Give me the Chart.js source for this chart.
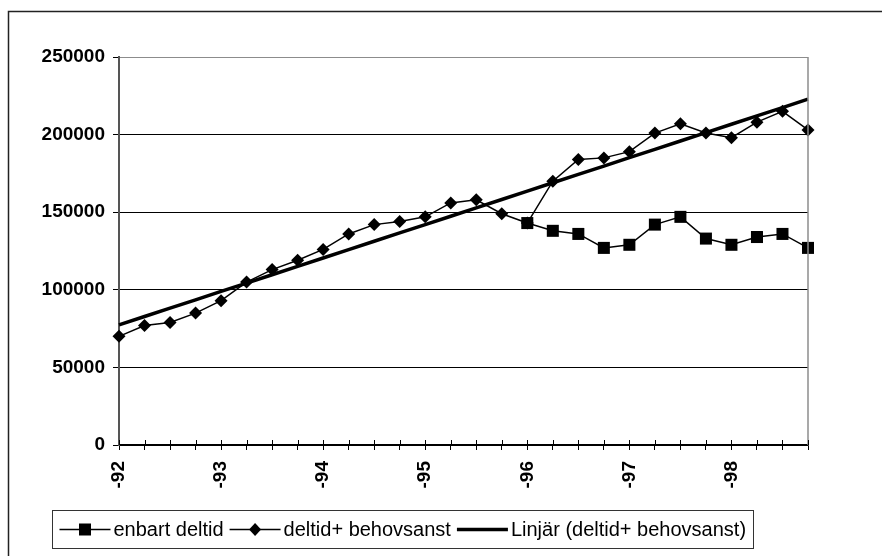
<!DOCTYPE html>
<html>
<head>
<meta charset="utf-8">
<script src="https://cdn.jsdelivr.net/npm/chart.js@4/dist/chart.umd.min.js"></script>
<style>
  html, body { margin: 0; padding: 0; background: #fff; }
  canvas { display: block; }
</style>
</head>
<body>
<canvas id="c" width="882" height="556"></canvas>
<script>
// Quarterly categories, 1992 Q1 .. 1998 Q4; only the first quarter of each year is labelled
const quarterLabels = [
  '-92', '', '', '',
  '-93', '', '', '',
  '-94', '', '', '',
  '-95', '', '', '',
  '-96', '', '', '',
  '-97', '', '', '',
  '-98', '', '', ''
];

const deltidBehovsanst = [
  70000, 77000, 79000, 85000,
  93000, 105000, 113000, 119000,
  126000, 136000, 142000, 144000,
  147000, 156000, 158000, 149000,
  143000, 170000, 184000, 185000,
  189000, 201000, 207000, 201000,
  198000, 208000, 215000, 203000
];

const enbartDeltid = [
  null, null, null, null,
  null, null, null, null,
  null, null, null, null,
  null, null, null, null,
  143000, 138000, 136000, 127000,
  129000, 142000, 147000, 133000,
  129000, 134000, 136000, 127000
];

const yTickValues = [0, 50000, 100000, 150000, 200000, 250000];

const seriesNames = ['enbart deltid', 'deltid+ behovsanst', 'Linjär (deltid+ behovsanst)'];

// Least-squares linear trend of a series over its category index
function linearTrend(values) {
  const pts = values.map((v, i) => [i, v]).filter(p => p[1] !== null);
  const n = pts.length;
  const mx = pts.reduce((s, p) => s + p[0], 0) / n;
  const my = pts.reduce((s, p) => s + p[1], 0) / n;
  let sxy = 0, sxx = 0;
  pts.forEach(p => { sxy += (p[0] - mx) * (p[1] - my); sxx += (p[0] - mx) * (p[0] - mx); });
  const slope = sxy / sxx;
  const icpt = my - slope * mx;
  return values.map((_, i) => icpt + slope * i);
}
const trendLine = linearTrend(deltidBehovsanst);

const FONT = "'Liberation Sans', Arial, sans-serif";

// Frame, plot border, upper half of the category ticks and the boxed legend
const decorations = {
  id: 'decorations',
  beforeDraw(chart) {
    const ctx = chart.ctx;
    ctx.save();
    ctx.fillStyle = '#fff';
    ctx.fillRect(0, 0, chart.width, chart.height);
    ctx.strokeStyle = '#222';
    ctx.lineWidth = 1.5;
    ctx.strokeRect(8.5, 11.5, chart.width + 20, chart.height + 20);
    ctx.restore();
  },
  afterDatasetsDraw(chart) {
    const ctx = chart.ctx;
    const area = chart.chartArea;
    const xs = chart.scales.x;
    ctx.save();
    // right edge of the plot area
    ctx.strokeStyle = '#8c8c8c';
    ctx.lineWidth = 1.5;
    ctx.beginPath();
    ctx.moveTo(area.right, area.top);
    ctx.lineTo(area.right, area.bottom);
    ctx.stroke();
    // tick marks rising above the category axis
    ctx.strokeStyle = '#000';
    ctx.lineWidth = 1;
    xs.ticks.forEach((t, i) => {
      const px = Math.round(xs.getPixelForTick(i)) + 0.5;
      ctx.beginPath();
      ctx.moveTo(px, area.bottom - 5);
      ctx.lineTo(px, area.bottom);
      ctx.stroke();
    });
    ctx.restore();
  },
  afterDraw(chart) {
    const ctx = chart.ctx;
    const boxL = 52.5, boxT = 510.5, boxW = 701, boxH = 38;
    const cy = boxT + boxH / 2;
    ctx.save();
    ctx.strokeStyle = '#333';
    ctx.lineWidth = 1;
    ctx.strokeRect(boxL, boxT, boxW, boxH);
    ctx.font = '20px ' + FONT;
    ctx.textBaseline = 'middle';
    ctx.fillStyle = '#000';
    let x = boxL + 7;
    const sampleW = 51;
    chart.data.datasets.forEach((ds) => {
      ctx.strokeStyle = '#000';
      ctx.lineWidth = ds.borderWidth;
      ctx.beginPath();
      ctx.moveTo(x, cy);
      ctx.lineTo(x + sampleW, cy);
      ctx.stroke();
      const mx = x + sampleW / 2;
      if (ds.pointStyle === 'rect') {
        ctx.fillRect(mx - 6, cy - 6, 12, 12);
      } else if (ds.pointStyle === 'rectRot') {
        ctx.beginPath();
        ctx.moveTo(mx, cy - 6.5);
        ctx.lineTo(mx + 6, cy);
        ctx.lineTo(mx, cy + 6.5);
        ctx.lineTo(mx - 6, cy);
        ctx.closePath();
        ctx.fill();
      }
      x += sampleW + 3;
      ctx.fillText(ds.label, x, cy + 1);
      x += ctx.measureText(ds.label).width + 6;
    });
    ctx.restore();
  }
};

new Chart(document.getElementById('c'), {
  type: 'line',
  data: {
    labels: quarterLabels,
    datasets: [
      {
        label: seriesNames[0],
        data: enbartDeltid,
        borderColor: '#000',
        backgroundColor: '#000',
        borderWidth: 1.5,
        pointStyle: 'rect',
        pointRadius: 8.5,
        pointHoverRadius: 8.5,
        pointBorderWidth: 0,
        tension: 0,
        clip: false
      },
      {
        label: seriesNames[1],
        data: deltidBehovsanst,
        borderColor: '#000',
        backgroundColor: '#000',
        borderWidth: 1.5,
        pointStyle: 'rectRot',
        pointRadius: 6.5,
        pointHoverRadius: 6.5,
        pointBorderWidth: 0,
        tension: 0,
        clip: false
      },
      {
        label: seriesNames[2],
        data: trendLine,
        borderColor: '#000',
        borderWidth: 3.5,
        pointRadius: 0,
        tension: 0,
        clip: false
      }
    ]
  },
  options: {
    responsive: false,
    animation: false,
    devicePixelRatio: 1,
    layout: { padding: { left: 0, top: 57, right: 74, bottom: 0 } },
    plugins: {
      legend: { display: false },
      tooltip: { enabled: false },
      title: { display: false }
    },
    scales: {
      x: {
        type: 'category',
        offset: false,
        grid: {
          display: true,
          drawOnChartArea: false,
          drawTicks: true,
          tickLength: 5,
          tickColor: '#000',
          offset: false
        },
        border: { display: true, color: '#000', width: 1.5 },
        ticks: {
          autoSkip: false,
          maxRotation: 90,
          minRotation: 90,
          padding: 11,
          color: '#000',
          font: { family: FONT, size: 19, weight: 'bold' }
        },
        afterFit(scale) { scale.height = 111; }
      },
      y: {
        min: 0,
        max: 250000,
        afterBuildTicks(scale) { scale.ticks = yTickValues.map(v => ({ value: v })); },
        grid: {
          color: (c) => (c.tick && c.tick.value === 250000 ? '#8c8c8c' : '#000'),
          lineWidth: 1,
          drawTicks: true,
          tickLength: 6,
          tickColor: '#000'
        },
        border: { display: true, color: '#555', width: 2 },
        ticks: {
          padding: 8,
          color: '#000',
          font: { family: FONT, size: 19, weight: 'bold' },
          callback: (v) => String(v)
        },
        afterFit(scale) { scale.width = 119; }
      }
    }
  },
  plugins: [decorations]
});
</script>
</body>
</html>
